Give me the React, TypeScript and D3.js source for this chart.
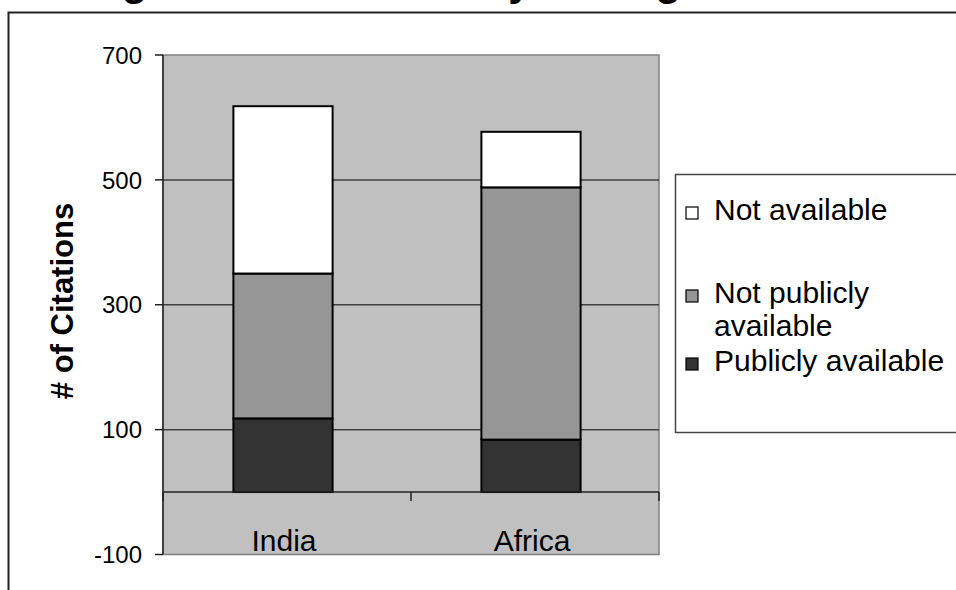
import React, { useEffect, useRef } from 'react';
import * as d3 from 'd3';

// --- Data ---
const categories = ['India', 'Africa'];
const seriesKeys = ['publicly', 'notPublicly', 'notAvailable'];
const publiclyAvailable = [118, 84];
const notPubliclyAvailable = [232, 404];
const notAvailable = [268, 89];
const yTickValues = [-100, 100, 300, 500, 700];
const gridValues = [100, 300, 500];
const legendLabels = [
    { key: 'notAvailable', lines: ['Not available'] },
    { key: 'notPublicly', lines: ['Not publicly', 'available'] },
    { key: 'publicly', lines: ['Publicly available'] },
];
const yAxisTitle = '# of Citations';
const chartTitle = 'Tracing of Data Availability to Origin';

const W = 956;
const H = 590;
const FONT = '"Liberation Sans", Arial, sans-serif';

const fills: Record<string, string> = {
    publicly: '#333333',
    notPublicly: '#969696',
    notAvailable: '#ffffff',
};

const drawChart = (svgEl: SVGSVGElement) => {
    const svg = d3.select(svgEl);
    svg.selectAll('*').remove();

    const plot = { left: 163, right: 659, top: 55, bottom: 554.5 };

    // outer chart frame (only top and left edges are in view)
    svg.append('rect')
        .attr('x', 8.5).attr('y', 12.5)
        .attr('width', W + 20).attr('height', H + 20)
        .attr('fill', '#ffffff')
        .attr('stroke', '#222222')
        .attr('stroke-width', 2);

    // title sits above the frame, mostly cut off by the top edge
    svg.append('text')
        .attr('x', -2)
        .attr('y', -5)
        .style('font-family', FONT)
        .style('font-weight', 'bold')
        .style('font-size', '42px')
        .style('fill', '#000')
        .text(chartTitle);

    const x = d3.scaleBand<string>()
        .domain(categories)
        .range([plot.left, plot.right])
        .padding(0);

    const y = d3.scaleLinear()
        .domain([-100, 700])
        .range([plot.bottom, plot.top]);

    // plot area
    svg.append('rect')
        .attr('x', plot.left)
        .attr('y', plot.top)
        .attr('width', plot.right - plot.left)
        .attr('height', plot.bottom - plot.top)
        .attr('fill', '#c0c0c0')
        .attr('stroke', '#808080')
        .attr('stroke-width', 1.5);

    // gridlines
    svg.selectAll('.grid')
        .data(gridValues)
        .enter()
        .append('line')
        .attr('x1', plot.left)
        .attr('x2', plot.right)
        .attr('y1', (d) => y(d))
        .attr('y2', (d) => y(d))
        .attr('stroke', '#404040')
        .attr('stroke-width', 1.5);

    // stacked bars
    const rows = categories.map((c, i) => ({
        category: c,
        publicly: publiclyAvailable[i],
        notPublicly: notPubliclyAvailable[i],
        notAvailable: notAvailable[i],
    }));
    const series = d3.stack<any>().keys(seriesKeys)(rows);
    const barWidth = x.bandwidth() * 0.4;

    series.forEach((s) => {
        svg.selectAll(`.bar-${s.key}`)
            .data(s)
            .enter()
            .append('rect')
            .attr('x', (d: any) => (x(d.data.category) as number) + x.bandwidth() / 2 - barWidth / 2 - 4)
            .attr('y', (d: any) => y(d[1]))
            .attr('width', barWidth)
            .attr('height', (d: any) => y(d[0]) - y(d[1]))
            .attr('fill', fills[s.key])
            .attr('stroke', '#000')
            .attr('stroke-width', 2);
    });

    // y axis line + ticks
    svg.append('line')
        .attr('x1', plot.left).attr('x2', plot.left)
        .attr('y1', plot.top).attr('y2', plot.bottom)
        .attr('stroke', '#222').attr('stroke-width', 1.5);

    yTickValues.forEach((v) => {
        svg.append('line')
            .attr('x1', plot.left - 8).attr('x2', plot.left)
            .attr('y1', y(v)).attr('y2', y(v))
            .attr('stroke', '#222').attr('stroke-width', 1.5);
        svg.append('text')
            .attr('x', 142)
            .attr('y', y(v))
            .attr('dy', '0.36em')
            .attr('text-anchor', 'end')
            .style('font-family', FONT)
            .style('font-size', '24px')
            .style('fill', '#000')
            .text(String(v));
    });

    // x axis at zero
    svg.append('line')
        .attr('x1', plot.left).attr('x2', plot.right)
        .attr('y1', y(0)).attr('y2', y(0))
        .attr('stroke', '#222').attr('stroke-width', 1.5);

    const boundaries = [plot.left, ...categories.map((c) => (x(c) as number) + x.bandwidth())];
    boundaries.forEach((bx) => {
        svg.append('line')
            .attr('x1', bx).attr('x2', bx)
            .attr('y1', y(0)).attr('y2', y(0) + 9)
            .attr('stroke', '#222').attr('stroke-width', 1.5);
    });

    categories.forEach((c) => {
        svg.append('text')
            .attr('x', (x(c) as number) + x.bandwidth() / 2 - 3)
            .attr('y', 551)
            .attr('text-anchor', 'middle')
            .style('font-family', FONT)
            .style('font-size', '30px')
            .style('fill', '#000')
            .text(c);
    });

    // y axis title
    svg.append('text')
        .attr('transform', `translate(73, 301) rotate(-90)`)
        .attr('text-anchor', 'middle')
        .style('font-family', FONT)
        .style('font-weight', 'bold')
        .style('font-size', '31px')
        .style('fill', '#000')
        .text(yAxisTitle);

    // legend
    svg.append('rect')
        .attr('x', 675.5).attr('y', 174.5)
        .attr('width', 400).attr('height', 258)
        .attr('fill', '#ffffff')
        .attr('stroke', '#444')
        .attr('stroke-width', 1.5);

    const legendRowY = [219, 302, 370];
    legendLabels.forEach((item, i) => {
        const baseline = legendRowY[i];
        svg.append('rect')
            .attr('x', 686).attr('y', baseline - 12)
            .attr('width', 12).attr('height', 12)
            .attr('fill', fills[item.key])
            .attr('stroke', '#000')
            .attr('stroke-width', 1.2);
        item.lines.forEach((line, j) => {
            svg.append('text')
                .attr('x', 714)
                .attr('y', baseline + 1 + j * 33)
                .style('font-family', FONT)
                .style('font-size', '30px')
                .style('fill', '#000')
                .text(line);
        });
    });
};

const App: React.FC = () => {
    const svgRef = useRef<SVGSVGElement | null>(null);

    useEffect(() => {
        if (svgRef.current) drawChart(svgRef.current);
    }, []);

    return (
        <svg
            ref={svgRef}
            width={W}
            height={H}
            viewBox={`0 0 ${W} ${H}`}
            style={{ position: 'absolute', left: 0, top: 0, display: 'block', background: '#fff' }}
        />
    );
};

export default App;
